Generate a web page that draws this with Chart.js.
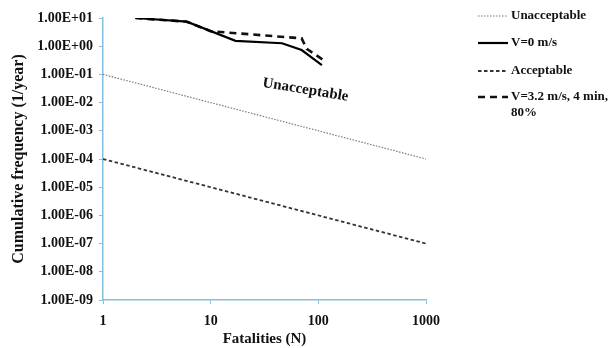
<!DOCTYPE html>
<html>
<head>
<meta charset="utf-8">
<script src="https://cdn.jsdelivr.net/npm/chart.js@4"></script>
<style>
  body { margin: 0; background: #fff; }
  canvas { display: block; }
</style>
</head>
<body>
<canvas id="fn" width="611" height="348"></canvas>
<script>
// F-N curve: cumulative frequency vs fatalities

// Datos
const nCase0 = [2, 6, 17, 46, 70, 108];
const fCase0 = [10, 7.4, 1.55, 1.27, 0.73, 0.215];

const nCase32 = [2, 6, 10, 70, 78, 115];
const fCase32 = [10, 7.4, 3.4, 1.9, 0.8, 0.3];

const nCriteria = [1, 1000];
const fUnacceptable = [1e-1, 1e-4];
const fAcceptable = [1e-4, 1e-7];

const xTicks = [1, 10, 100, 1000];
const yTicks = [1e-9, 1e-8, 1e-7, 1e-6, 1e-5, 1e-4, 1e-3, 1e-2, 1e-1, 1e0, 1e1];

const axisColor = '#86bee0';
const serif = '"Liberation Serif", "Times New Roman", serif';

function toPoints(xs, ys) {
  return xs.map((x, i) => ({ x: x, y: ys[i] }));
}

function sciLabel(v) {
  const e = Math.round(Math.log10(v));
  const sign = e < 0 ? '-' : '+';
  return '1.00E' + sign + String(Math.abs(e)).padStart(2, '0');
}

// leyenda dibujada a mano (a la derecha, vertical)
const legendPlugin = {
  id: 'fnLegend',
  afterDraw(chart) {
    const { ctx } = chart;
    const items = [
      { ds: 0, y: 16, lines: ['Unacceptable'] },
      { ds: 1, y: 43, lines: ['V=0 m/s'] },
      { ds: 2, y: 71, lines: ['Acceptable'] },
      { ds: 3, y: 97, lines: ['V=3.2 m/s, 4 min,', '80%'] }
    ];
    ctx.save();
    ctx.font = 'bold 13px ' + serif;
    ctx.textBaseline = 'middle';
    ctx.textAlign = 'left';
    items.forEach(it => {
      const ds = chart.data.datasets[it.ds];
      ctx.beginPath();
      ctx.strokeStyle = ds.borderColor;
      ctx.lineWidth = ds.borderWidth;
      ctx.setLineDash(ds.borderDash || []);
      ctx.moveTo(478, it.y);
      ctx.lineTo(508, it.y);
      ctx.stroke();
      ctx.setLineDash([]);
      ctx.fillStyle = '#111';
      it.lines.forEach((t, k) => ctx.fillText(t, 511, it.y + k * 16));
    });
    ctx.restore();
  }
};

// texto "Unacceptable" inclinado dentro del grafico
const zoneLabel = {
  id: 'zoneLabel',
  afterDatasetsDraw(chart) {
    const { ctx, scales } = chart;
    const px = scales.x.getPixelForValue(76);
    const py = scales.y.getPixelForValue(0.028);
    ctx.save();
    ctx.translate(px, py);
    ctx.rotate(9.4 * Math.PI / 180);
    ctx.font = 'bold 15px ' + serif;
    ctx.fillStyle = '#111';
    ctx.textAlign = 'center';
    ctx.textBaseline = 'middle';
    ctx.fillText('Unacceptable', 0, 0);
    ctx.restore();
  }
};

new Chart(document.getElementById('fn'), {
  type: 'line',
  data: {
    datasets: [
      {
        label: 'Unacceptable',
        data: toPoints(nCriteria, fUnacceptable),
        borderColor: '#7a7a7a',
        borderWidth: 1.2,
        borderDash: [1.5, 1.5]
      },
      {
        label: 'V=0 m/s',
        data: toPoints(nCase0, fCase0),
        borderColor: '#000',
        borderWidth: 2.2
      },
      {
        label: 'Acceptable',
        data: toPoints(nCriteria, fAcceptable),
        borderColor: '#333',
        borderWidth: 1.8,
        borderDash: [3.5, 2.5]
      },
      {
        label: 'V=3.2 m/s, 4 min, 80%',
        data: toPoints(nCase32, fCase32),
        borderColor: '#111',
        borderWidth: 2.6,
        borderDash: [7, 5]
      }
    ]
  },
  options: {
    responsive: false,
    animation: false,
    parsing: false,
    elements: {
      point: { radius: 0 },
      line: { tension: 0, fill: false }
    },
    layout: { padding: { top: 18, right: 185, left: 0, bottom: 0 } },
    plugins: {
      legend: { display: false },
      tooltip: { enabled: false }
    },
    scales: {
      x: {
        type: 'logarithmic',
        min: 1,
        max: 1000,
        afterBuildTicks: s => { s.ticks = xTicks.map(v => ({ value: v })); },
        afterFit: s => { s.height = 48; },
        grid: { drawOnChartArea: false, color: axisColor, tickLength: 4 },
        border: { color: axisColor, width: 1.5 },
        ticks: {
          padding: 9,
          color: '#111',
          font: { family: serif, size: 14, weight: 'bold' },
          callback: v => String(v),
          maxRotation: 0
        },
        title: {
          display: true,
          text: 'Fatalities (N)',
          color: '#111',
          font: { family: serif, size: 15, weight: 'bold' },
          padding: { top: 0, bottom: 0 }
        }
      },
      y: {
        type: 'logarithmic',
        min: 1e-9,
        max: 10,
        afterBuildTicks: s => { s.ticks = yTicks.map(v => ({ value: v })); },
        afterFit: s => { s.width = 103; },
        grid: { drawOnChartArea: false, color: axisColor, tickLength: 4 },
        border: { color: axisColor, width: 1.5 },
        ticks: {
          padding: 6,
          color: '#111',
          font: { family: serif, size: 14, weight: 'bold' },
          callback: v => sciLabel(v)
        },
        title: {
          display: true,
          text: 'Cumulative frequency (1/year)',
          color: '#111',
          font: { family: serif, size: 16, weight: 'bold' },
          padding: { top: 9, bottom: 0 }
        }
      }
    }
  },
  plugins: [zoneLabel, legendPlugin]
});
</script>
</body>
</html>
